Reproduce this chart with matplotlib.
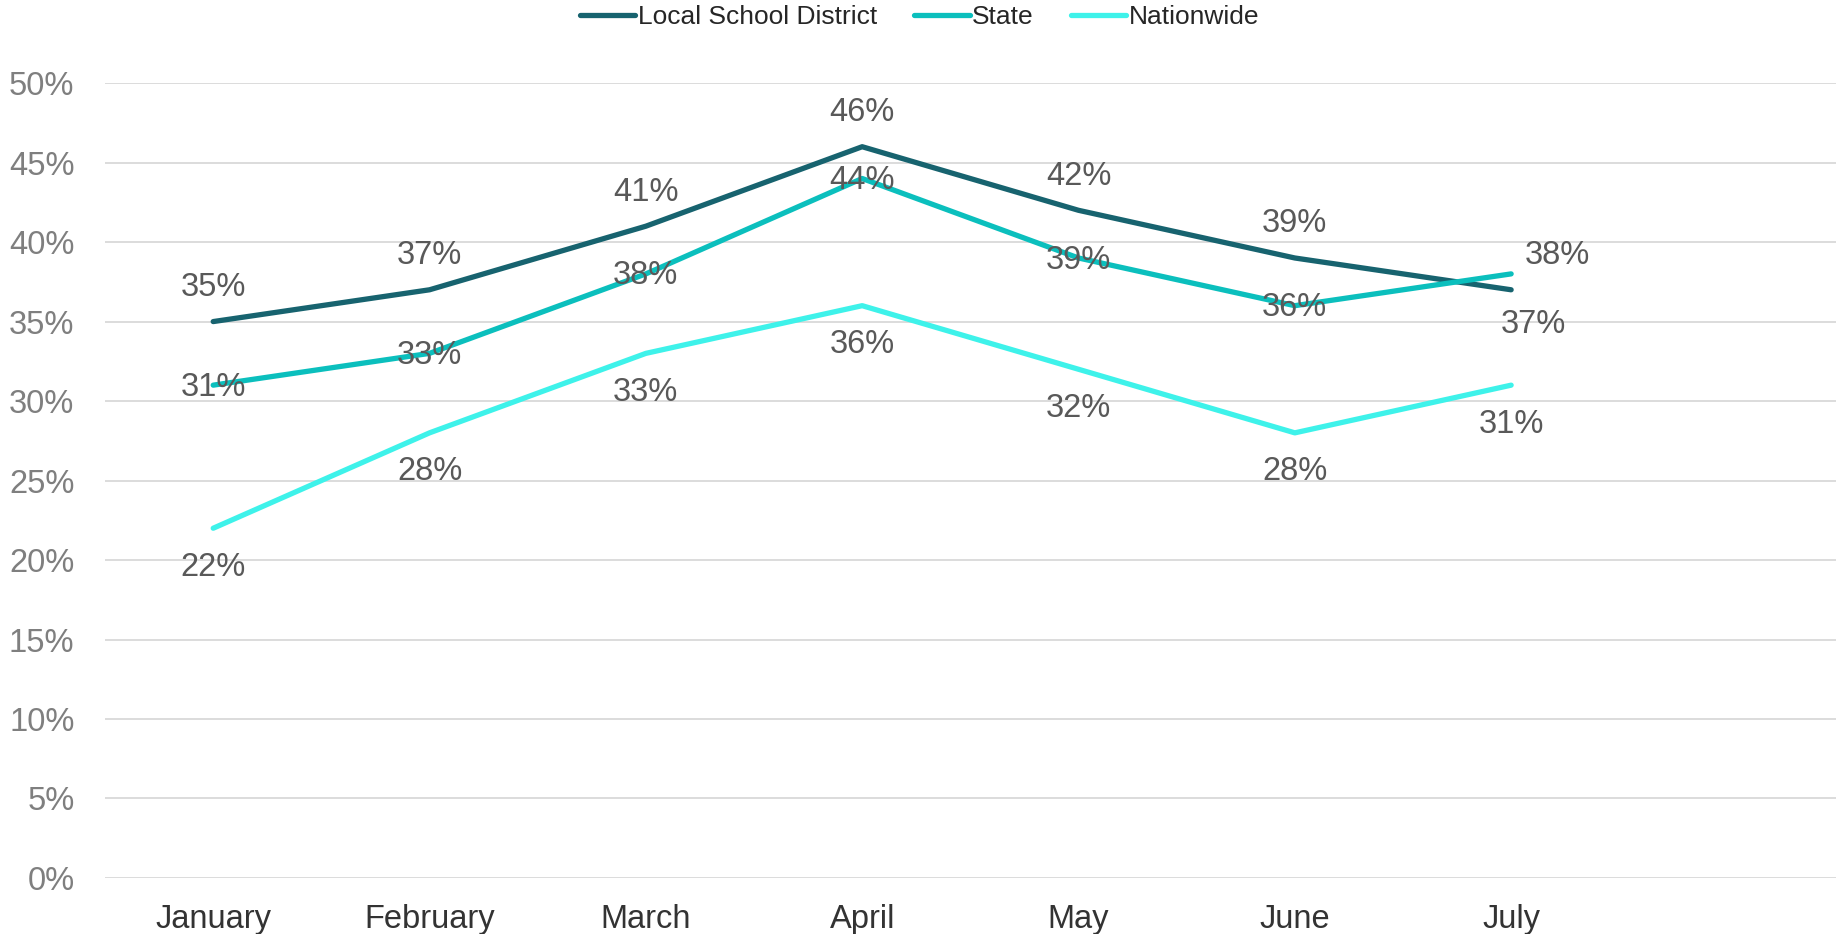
import numpy as np
from matplotlib import pyplot as plt
from matplotlib.ticker import PercentFormatter

months = ["January", "February", "March", "April", "May", "June", "July"]
local = [35, 37, 41, 46, 42, 39, 37]
state = [31, 33, 38, 44, 39, 36, 38]
nationwide = [22, 28, 33, 36, 32, 28, 31]

plt.rcParams['font.family'] = ['Liberation Sans', 'DejaVu Sans']

fig = plt.figure(figsize=(18.43, 9.34), dpi=100)
ax = fig.add_axes([0.057, 0.06, 0.939, 0.851])

x = np.arange(len(months))
c_local, c_state, c_nat = "#17636F", "#0BBFBD", "#3EF2EA"
lw = 3.8

ax.plot(x, local, color=c_local, lw=lw, solid_capstyle="round", label="Local School District", zorder=3)
ax.plot(x, state, color=c_state, lw=lw, solid_capstyle="round", label="State", zorder=3)
ax.plot(x, nationwide, color=c_nat, lw=lw, solid_capstyle="round", label="Nationwide", zorder=3)

lab = dict(fontsize=23.5, color="#595959", ha="center", va="center", textcoords="offset points", zorder=4)
# local: above, last one below
for i, v in enumerate(local):
    off = (0, 24.5) if i < len(local) - 1 else (16, -25)
    ax.annotate(f"{v}%", (x[i], v), xytext=off, **lab)
# state: centered, last one right
for i, v in enumerate(state):
    if i < len(state) - 1:
        ax.annotate(f"{v}%", (x[i], v), xytext=(0, -1.5), **lab)
    else:
        ax.annotate(f"{v}%", (x[i], v), xytext=(10, 13), **dict(lab, ha="left"))
# nationwide: below
for i, v in enumerate(nationwide):
    ax.annotate(f"{v}%", (x[i], v), xytext=(0, -28), **lab)

ax.set_xlim(-0.5, 7.5)
ax.set_ylim(0, 50)
ax.set_yticks(np.arange(0, 51, 5))
ax.yaxis.set_major_formatter(PercentFormatter(decimals=0))
ax.set_xticks(x)
ax.set_xticklabels(months)
ax.tick_params(axis="y", length=0, pad=22, labelsize=23.5, labelcolor="#7F7F7F")
ax.tick_params(axis="x", length=0, pad=18.5, labelsize=23.5, labelcolor="#333333")
ax.grid(axis="y", color="#D9D9D9", lw=1.3)
ax.set_axisbelow(True)
for s in ax.spines.values():
    s.set_visible(False)

leg = fig.legend(loc="center", bbox_to_anchor=(0.499, 0.982), ncol=3, frameon=False,
                 handlelength=2.1, handletextpad=0.1, columnspacing=1.4,
                 prop={'family': ['Liberation Sans Narrow', 'Liberation Sans'], 'size': 19})
for line in leg.get_lines():
    line.set_linewidth(lw)
    line.set_solid_capstyle("round")
for t in leg.get_texts():
    t.set_color("#262626")

fig.savefig("out.png", dpi=100)
